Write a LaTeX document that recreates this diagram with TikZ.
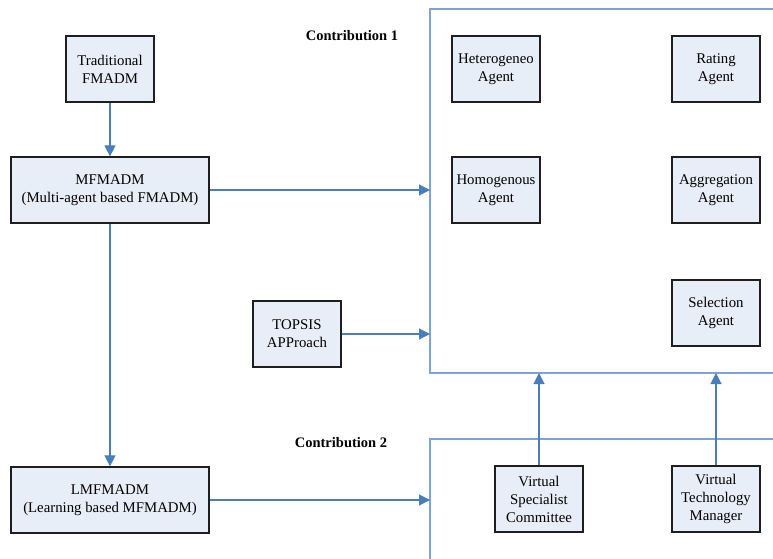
\documentclass[tikz,border=0pt]{standalone}
\usepackage{fontspec}
\setmainfont{Liberation Serif}
\usetikzlibrary{arrows.meta}
\definecolor{boxfill}{HTML}{E8EEF7}
\definecolor{boxline}{HTML}{1E1E1E}
\definecolor{flow}{HTML}{4A7EBB}
\definecolor{frame}{HTML}{7EA3D6}
\begin{document}
\begin{tikzpicture}[x=1pt,y=-1pt,
  agentbox/.style={draw=boxline, line width=1.2pt, fill=boxfill,
    minimum width=88pt, minimum height=66pt, inner sep=0pt,
    align=center, font=\fontsize{14.8}{18}\selectfont, anchor=center},
  widebox/.style={agentbox, minimum width=198pt},
  flowarrow/.style={draw=flow, line width=1.1pt,
    -{Triangle[length=11pt,width=11pt]}},
  frameline/.style={draw=frame, line width=1.1pt},
  heading/.style={font=\fontsize{14.5}{18}\selectfont\bfseries}]
\useasboundingbox (0,0) rectangle (773,559);

% left column
\node[agentbox] (trad) at (110,69) {Traditional\\FMADM};
\node[widebox] (mf) at (110,190) {MFMADM\\(Multi-agent based FMADM)};
\node[widebox] (lmf) at (110,500) {LMFMADM\\(Learning based MFMADM)};
\node[agentbox] (topsis) at (297,334) {TOPSIS\\APProach};

% contribution 1 frame (open to the right)
\coordinate (c1tl) at (430,9);
\coordinate (c1bl) at (430,373);
\coordinate (c1tr) at (773,9);
\coordinate (c1br) at (773,373);
\draw[frameline] (c1tr) -- (c1tl) -- (c1bl) -- (c1br);
\node[heading] (lab1) at (352,36) {Contribution 1};

\node[agentbox] (hetero) at (496,69) {Heterogeneo\\Agent};
\node[agentbox] (rating) at (716,69) {Rating\\Agent};
\node[agentbox] (homo) at (496,190) {Homogenous\\Agent};
\node[agentbox] (aggr) at (716,190) {Aggregation\\Agent};
\node[agentbox] (sel) at (716,313) {Selection\\Agent};

% contribution 2 frame (open to the right and below)
\coordinate (c2tl) at (430,439);
\coordinate (c2tr) at (773,439);
\coordinate (c2bl) at (430,559);
\draw[frameline] (c2tr) -- (c2tl) -- (c2bl);
\node[heading] (lab2) at (341,443) {Contribution 2};

\node[agentbox] (vsc) at (539,499) {Virtual\\Specialist\\Committee};
\node[agentbox] (vtm) at (716,499) {Virtual\\Technology\\Manager};

% flows
\draw[flowarrow] (trad.south) -- (mf.north);
\draw[flowarrow] (mf.south) -- (lmf.north);
\coordinate (in1) at (430,190);
\coordinate (in2) at (430,334);
\coordinate (in3) at (430,500);
\draw[flowarrow] (mf.east) -- (in1);
\draw[flowarrow] (topsis.east) -- (in2);
\draw[flowarrow] (lmf.east) -- (in3);
\coordinate (up1) at (539,373);
\coordinate (up2) at (716,373);
\draw[flowarrow] (vsc.north) -- (up1);
\draw[flowarrow] (vtm.north) -- (up2);
\end{tikzpicture}
\end{document}
